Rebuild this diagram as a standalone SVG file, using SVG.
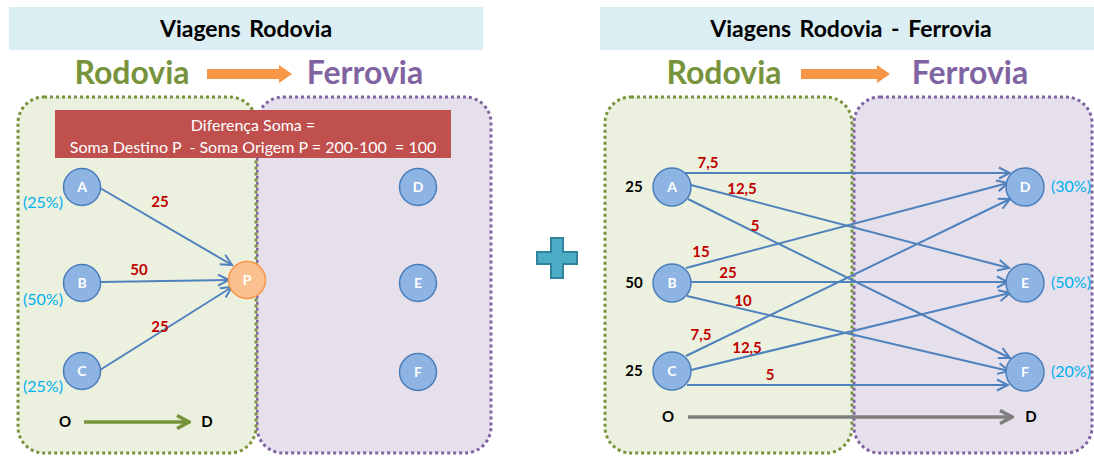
<svg xmlns="http://www.w3.org/2000/svg" width="1094" height="456" viewBox="0 0 1094 456">
  <style>
    text { font-family: Lato, "Liberation Sans", sans-serif; }
    .title { font-size: 23px; font-weight: bold; fill: #000; text-anchor: middle; word-spacing: 3px; }
    .road { font-size: 32px; font-weight: bold; fill: #77933C; text-anchor: middle; }
    .rail { font-size: 32px; font-weight: bold; fill: #8064A2; text-anchor: middle; }
    .node { fill: #8EB4E3; stroke: #4A7EBB; stroke-width: 1.5; }
    .hub { fill: #FAC090; stroke: #F79646; stroke-width: 1.5; }
    .nlabel { font-size: 14px; font-weight: bold; fill: #fff; text-anchor: middle; }
    .pct { font-size: 16px; fill: #00B0F0; text-anchor: middle; }
    .flow { font-size: 15px; font-weight: bold; fill: #C00000; text-anchor: middle; }
    .qty { font-size: 15px; font-weight: bold; fill: #000; text-anchor: middle; }
    .edge { stroke: #4F81BD; stroke-width: 2; fill: none; marker-end: url(#arr); }
    .zoneG { fill: #EBF1DE; stroke: #77933C; stroke-width: 3; stroke-dasharray: 3 3; }
    .zoneP { fill: #E5E0EC; stroke: #8064A2; stroke-width: 3; stroke-dasharray: 3 3; }
    .note { font-size: 16px; fill: #fff; text-anchor: middle; white-space: pre; }
  </style>
  <defs>
    <marker id="arr" viewBox="0 0 14 14" refX="12" refY="7" markerWidth="14" markerHeight="14" markerUnits="userSpaceOnUse" orient="auto">
      <path d="M1,1.5 L12,7 L1,12.5" fill="none" stroke="#4F81BD" stroke-width="2"/>
    </marker>
    <marker id="arrG" viewBox="0 0 16 16" refX="14" refY="8" markerWidth="16" markerHeight="16" markerUnits="userSpaceOnUse" orient="auto">
      <path d="M2,1.5 L14,8 L2,14.5" fill="none" stroke="#77933C" stroke-width="3.5"/>
    </marker>
    <marker id="arrK" viewBox="0 0 16 16" refX="14" refY="8" markerWidth="16" markerHeight="16" markerUnits="userSpaceOnUse" orient="auto">
      <path d="M2,1.5 L14,8 L2,14.5" fill="none" stroke="#7F7F7F" stroke-width="3.5"/>
    </marker>
  </defs>

  <rect width="1094" height="456" fill="#fff"/>

  <!-- Left panel: road trips -->
  <g id="left-header">
    <rect x="9" y="7" width="474" height="43" fill="#DAEEF3"/>
    <text class="title" x="246" y="37">Viagens Rodovia</text>
    <text class="road" x="132" y="84">Rodovia</text>
    <polygon points="207,69 279,69 279,65 292,74 279,83 279,79 207,79" fill="#F79646"/>
    <text class="rail" x="365" y="84">Ferrovia</text>
  </g>
  <g id="left-zones">
    <rect class="zoneP" x="257" y="97" width="234" height="356" rx="26"/>
    <rect class="zoneG" x="18" y="97" width="238" height="356" rx="26"/>
  </g>
  <g id="note">
    <rect x="55" y="110" width="396" height="48" fill="#C0504D"/>
    <text class="note" x="253" y="131">Diferença Soma =</text>
    <text class="note" x="253" y="153">Soma Destino P  - Soma Origem P = 200-100  = 100</text>
  </g>

  <g id="left-connectors">
    <line class="edge" x1="100" y1="188" x2="232" y2="265"/>
    <line class="edge" x1="100" y1="282" x2="229" y2="280"/>
    <line class="edge" x1="100" y1="370" x2="232" y2="287"/>
    <text class="flow" x="160" y="207">25</text>
    <text class="flow" x="139" y="275">50</text>
    <text class="flow" x="160" y="332">25</text>
    <line x1="84" y1="422" x2="189" y2="422" stroke="#77933C" stroke-width="3.5" marker-end="url(#arrG)"/>
    <text class="qty" x="65" y="427">O</text>
    <text class="qty" x="207" y="427">D</text>
  </g>

  <g id="L-A"><circle class="node" cx="82" cy="187" r="18.5"/><text class="nlabel" x="82" y="192">A</text></g>
  <g id="L-B"><circle class="node" cx="82" cy="283" r="18.5"/><text class="nlabel" x="82" y="288">B</text></g>
  <g id="L-C"><circle class="node" cx="82" cy="371" r="18.5"/><text class="nlabel" x="82" y="376">C</text></g>
  <g id="L-P"><circle class="hub" cx="247" cy="280" r="18.5"/><text class="nlabel" x="247" y="285">P</text></g>
  <g id="L-D"><circle class="node" cx="418" cy="187" r="18.5"/><text class="nlabel" x="418" y="192">D</text></g>
  <g id="L-E"><circle class="node" cx="418" cy="283" r="18.5"/><text class="nlabel" x="418" y="288">E</text></g>
  <g id="L-F"><circle class="node" cx="418" cy="372" r="18.5"/><text class="nlabel" x="418" y="377">F</text></g>
  <g id="left-shares">
    <text class="pct" x="43" y="208">(25%)</text>
    <text class="pct" x="43" y="305">(50%)</text>
    <text class="pct" x="43" y="392">(25%)</text>
  </g>

  <!-- Plus sign -->
  <g id="plus">
    <polygon points="551,238 563,238 563,252 577,252 577,264 563,264 563,278 551,278 551,264 537,264 537,252 551,252" fill="#4BACC6" stroke="#31849B" stroke-width="2"/>
  </g>

  <!-- Right panel: road-rail trips -->
  <g id="right-header">
    <rect x="600" y="7" width="494" height="43" fill="#DAEEF3"/>
    <text class="title" x="851" y="37">Viagens Rodovia - Ferrovia</text>
    <text class="road" x="724" y="84">Rodovia</text>
    <polygon points="801,69 877,69 877,65 890,74 877,83 877,79 801,79" fill="#F79646"/>
    <text class="rail" x="970" y="84">Ferrovia</text>
  </g>
  <g id="right-zones">
    <rect class="zoneP" x="854" y="97" width="238" height="356" rx="26"/>
    <rect class="zoneG" x="605" y="97" width="247" height="356" rx="26"/>
  </g>

  <g id="right-connectors">
    <line class="edge" x1="684" y1="173" x2="1010" y2="173"/>
    <line class="edge" x1="691" y1="185" x2="1009" y2="268"/>
    <line class="edge" x1="688" y1="199" x2="1010" y2="358"/>
    <line class="edge" x1="686" y1="268" x2="1008" y2="183"/>
    <line class="edge" x1="691" y1="282" x2="1008" y2="282"/>
    <line class="edge" x1="687" y1="296" x2="1009" y2="371"/>
    <line class="edge" x1="686" y1="356" x2="1010" y2="199"/>
    <line class="edge" x1="691" y1="370" x2="1010" y2="293"/>
    <line class="edge" x1="687" y1="385" x2="1008" y2="385"/>
    <text class="flow" x="708" y="168">7,5</text>
    <text class="flow" x="742" y="194">12,5</text>
    <text class="flow" x="755" y="231">5</text>
    <text class="flow" x="701" y="257">15</text>
    <text class="flow" x="728" y="278">25</text>
    <text class="flow" x="743" y="306">10</text>
    <text class="flow" x="701" y="340">7,5</text>
    <text class="flow" x="747" y="353">12,5</text>
    <text class="flow" x="770" y="380">5</text>
    <line x1="688" y1="417" x2="1012" y2="417" stroke="#7F7F7F" stroke-width="3.5" marker-end="url(#arrK)"/>
    <text class="qty" x="668" y="422">O</text>
    <text class="qty" x="1031" y="422">D</text>
  </g>

  <g id="R-A"><circle class="node" cx="672" cy="187" r="19"/><text class="nlabel" x="672" y="192">A</text></g>
  <g id="R-B"><circle class="node" cx="672" cy="283" r="19"/><text class="nlabel" x="672" y="288">B</text></g>
  <g id="R-C"><circle class="node" cx="672" cy="371" r="19"/><text class="nlabel" x="672" y="376">C</text></g>
  <g id="R-D"><circle class="node" cx="1025" cy="187" r="19"/><text class="nlabel" x="1025" y="192">D</text></g>
  <g id="R-E"><circle class="node" cx="1025" cy="283" r="19"/><text class="nlabel" x="1025" y="288">E</text></g>
  <g id="R-F"><circle class="node" cx="1025" cy="372" r="19"/><text class="nlabel" x="1025" y="377">F</text></g>
  <g id="right-totals">
    <text class="qty" x="634" y="192">25</text>
    <text class="qty" x="634" y="288">50</text>
    <text class="qty" x="634" y="376">25</text>
    <text class="pct" x="1071" y="192">(30%)</text>
    <text class="pct" x="1071" y="288">(50%)</text>
    <text class="pct" x="1071" y="377">(20%)</text>
  </g>
</svg>
